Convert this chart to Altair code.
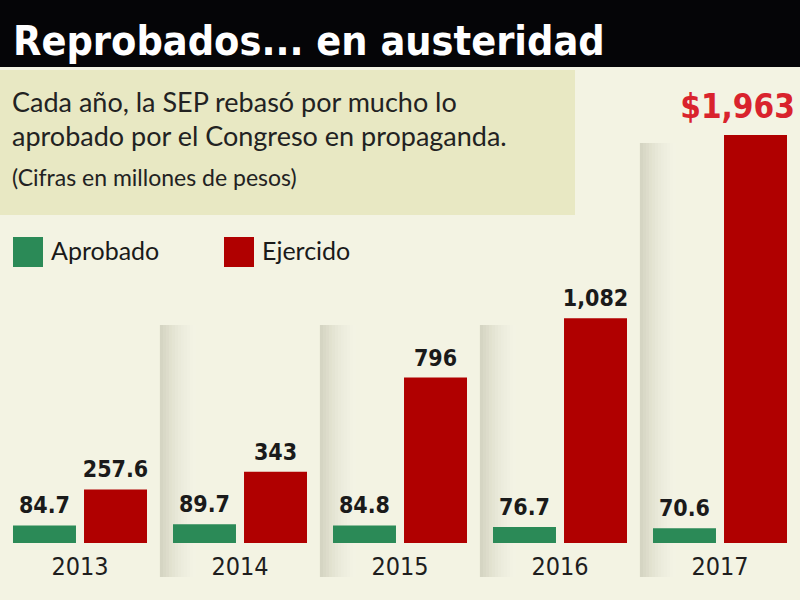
import altair as alt
import pandas as pd

# ---- data ----
years = ["2013", "2014", "2015", "2016", "2017"]
series = ["Aprobado", "Ejercido"]
aprobado = [84.7, 89.7, 84.8, 76.7, 70.6]
ejercido = [257.6, 343, 796, 1082, 1963]
aprobado_labels = ["84.7", "89.7", "84.8", "76.7", "70.6"]
ejercido_labels = ["257.6", "343", "796", "1,082", "$1,963"]
colors = ["#2b8a57", "#b00000"]

# decorative background columns (height in data units)
shade_years = ["2014", "2015", "2016", "2017"]
shade_tops = [1049, 1049, 1049, 1925]

rows = []
for i, y in enumerate(years):
    rows.append(dict(year=y, series="Aprobado", value=aprobado[i], label=aprobado_labels[i], big=0))
    rows.append(dict(year=y, series="Ejercido", value=ejercido[i], label=ejercido_labels[i],
                     big=1 if ejercido_labels[i].startswith("$") else 0))
df = pd.DataFrame(rows)
shade_df = pd.DataFrame(dict(year=shade_years, top=shade_tops))

COND = "DejaVu Sans Condensed, sans-serif"
BG = "#f3f3e3"
one = alt.Data(values=[{"a": 1}])

xscale = alt.Scale(domain=years, paddingInner=0, paddingOuter=0)
x_axis = alt.X("year:N", scale=xscale,
               axis=alt.Axis(title=None, ticks=False, domain=False, labelAngle=0,
                             labelFont=COND, labelFontSize=25, labelColor="#1e1e1e",
                             labelPadding=11, grid=False))
x_noaxis = alt.X("year:N", scale=xscale, axis=None)
x_start = alt.X("year:N", bandPosition=0, scale=xscale, axis=None)
xoff = alt.XOffset("series:N", scale=alt.Scale(domain=series, paddingInner=0.113, paddingOuter=0.183))
yscale = alt.Scale(domain=[0, 2613], nice=False)
y_enc = alt.Y("value:Q", scale=yscale, axis=None)

title_bar = alt.Chart(one).mark_rect(color="#050507").encode(
    x=alt.value(0), x2=alt.value(800), y=alt.value(0), y2=alt.value(67))
box = alt.Chart(one).mark_rect(color="#e8e8c3").encode(
    x=alt.value(0), x2=alt.value(575), y=alt.value(70), y2=alt.value(215))
title = alt.Chart(one).mark_text(text="Reprobados... en austeridad", align="left", baseline="alphabetic",
                                 font=COND, fontSize=41, fontWeight="bold", color="white").encode(
    x=alt.value(13), y=alt.value(55))
sub1 = alt.Chart(one).mark_text(text="Cada año, la SEP rebasó por mucho lo", align="left",
                                baseline="alphabetic", font="Lato", fontSize=27, color="#222").encode(
    x=alt.value(12), y=alt.value(112))
sub2 = alt.Chart(one).mark_text(text="aprobado por el Congreso en propaganda.", align="left",
                                baseline="alphabetic", font="Lato", fontSize=27, color="#222").encode(
    x=alt.value(12), y=alt.value(146))
sub3 = alt.Chart(one).mark_text(text="(Cifras en millones de pesos)", align="left",
                                baseline="alphabetic", font="Lato", fontSize=23, color="#222").encode(
    x=alt.value(12), y=alt.value(186))

# soft shading at the left edge of each background column, drawn as thin strips
strip_cols = ["#d5d5c3", "#d9d9c7", "#dddccb", "#e1e1cf", "#e4e4d3", "#e7e7d7",
              "#eaeada", "#ececdd", "#eeeedf", "#f0f0e1", "#f2f2e3", "#f3f3e4"]
shade_layers = []
for k, c in enumerate(strip_cols):
    shade_layers.append(alt.Chart(shade_df).mark_rule(color=c, strokeWidth=3.2, xOffset=1.5 + 3 * k).encode(
        x=x_start, y=alt.Y("top:Q", scale=yscale, axis=None), y2=alt.value(577)))

bars = alt.Chart(df).mark_bar().encode(
    x=x_axis, xOffset=xoff, y=y_enc,
    color=alt.Color("series:N", scale=alt.Scale(domain=series, range=colors),
                    legend=alt.Legend(title=None, orient="none", legendX=13, legendY=237,
                                      direction="horizontal", symbolType="square", symbolSize=900,
                                      symbolStrokeWidth=0, symbolOpacity=1, labelFont="Lato",
                                      labelFontSize=25, labelColor="#1a1a1a", labelOffset=8,
                                      columnPadding=64, padding=0)))
labels = alt.Chart(df).transform_filter("datum.big == 0").mark_text(
    font=COND, fontWeight="bold", fontSize=23, baseline="alphabetic", dy=-12, color="#1a1a1a").encode(
    x=x_noaxis, xOffset=xoff, y=y_enc, text="label:N")
big = alt.Chart(df).transform_filter("datum.big == 1").mark_text(
    font=COND, fontWeight="bold", fontSize=33, baseline="alphabetic", dy=-17, dx=-18,
    color="#d9232d").encode(x=x_noaxis, xOffset=xoff, y=y_enc, text="label:N")

chart = alt.layer(title_bar, box, title, sub1, sub2, sub3, *shade_layers, bars, labels, big).resolve_scale(
    x="independent").properties(
    width=800, height=543, padding={"left": 0, "top": 0, "right": 0, "bottom": 57},
    autosize=alt.AutoSizeParams(type="none"), background=BG).configure_view(stroke=None)

chart.save("out.html", embed_options={"renderer": "svg", "actions": False})
